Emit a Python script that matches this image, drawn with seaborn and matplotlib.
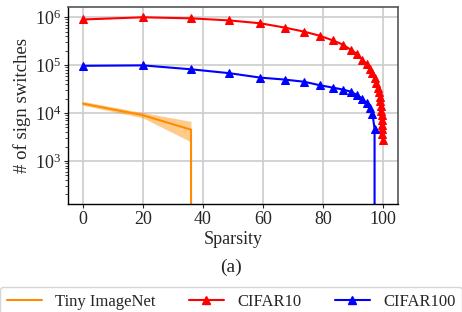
import numpy as np
import pandas as pd
import seaborn as sns
import matplotlib
matplotlib.use("Agg")
import matplotlib.pyplot as plt
from matplotlib.lines import Line2D

# Sparsity levels (iterative pruning)
sparsity = [0, 20, 36, 48.8, 59.04, 67.23, 73.79, 79.03, 83.22, 86.58,
            89.26, 91.41, 93.13, 94.50, 95.60, 96.48, 97.19, 97.75, 98.20, 98.56,
            98.85, 99.08, 99.26, 99.41, 99.53, 99.62, 99.70, 99.76, 99.81, 99.85]

# CIFAR10 - sign switches
cifar10 = [9.0e5, 1.0e6, 9.5e5, 8.6e5, 7.5e5, 6.1e5, 5.0e5, 4.1e5, 3.3e5, 2.7e5,
           2.1e5, 1.7e5, 1.3e5, 1.05e5, 8.4e4, 6.7e4, 5.4e4, 4.3e4, 3.4e4, 2.75e4,
           2.2e4, 1.75e4, 1.4e4, 1.12e4, 9.0e3, 7.2e3, 5.7e3, 4.6e3, 3.6e3, 2.8e3]

# CIFAR100 - sign switches (drops to zero at the end)
cifar100 = [9.7e4, 9.9e4, 8.2e4, 6.8e4, 5.5e4, 5.0e4, 4.5e4, 3.8e4, 3.4e4, 3.1e4,
            2.8e4, 2.35e4, 2.0e4, 1.6e4, 1.25e4, 9.7e3, 4.7e3, 0]

# Tiny ImageNet - mean and band
tiny_x = [0, 20, 36, 48.8]
tiny_mean = [1.57e4, 9.0e3, 4.5e3, 0]
tiny_low = [1.45e4, 7.9e3, 2.5e3]
tiny_high = [1.75e4, 1.02e4, 6.7e3]

sns.set_style("white")
plt.rcParams["font.family"] = ["Liberation Serif", "DejaVu Serif"]
plt.rcParams["mathtext.fontset"] = "custom"
plt.rcParams["mathtext.rm"] = "Liberation Serif"
plt.rcParams["mathtext.it"] = "Liberation Serif:italic"

orange = "#ff8c00"

df_c10 = pd.DataFrame({"Sparsity": sparsity, "n": cifar10})
df_c100 = pd.DataFrame({"Sparsity": sparsity[:len(cifar100)], "n": cifar100})
df_tiny = pd.DataFrame({"Sparsity": tiny_x, "n": tiny_mean})

fig = plt.figure(figsize=(4.62, 3.12), dpi=100)
ax = fig.add_axes([68 / 462, 1 - 204 / 312, 330 / 462, 197 / 312])

sns.lineplot(data=df_tiny, x="Sparsity", y="n", color=orange, lw=1.5, ax=ax)
ax.fill_between(tiny_x[:3], tiny_low, tiny_high, color=orange, alpha=0.45, lw=0)
sns.lineplot(data=df_c10, x="Sparsity", y="n", color="red", lw=1.5,
             marker="^", markersize=6, markeredgecolor="red", ax=ax)
sns.lineplot(data=df_c100, x="Sparsity", y="n", color="blue", lw=1.5,
             marker="^", markersize=6, markeredgecolor="blue", ax=ax)

ax.set_yscale("log")
ax.set_ylim(126, 1.64e6)
ax.set_xlim(-5, 105)
ax.set_xticks([0, 20, 40, 60, 80, 100])
ax.grid(True, which="major", color="#cccccc", lw=1.2)
ax.set_axisbelow(True)

ax.tick_params(axis="both", which="major", labelsize=13, length=3, width=0.8,
               direction="out", left=True, bottom=True, pad=2)
ax.tick_params(axis="y", which="minor", length=2, width=0.6, left=True)
for s in ["left", "bottom"]:
    ax.spines[s].set_color("black")
    ax.spines[s].set_linewidth(1.0)
for s in ["top", "right"]:
    ax.spines[s].set_color("#555555")
    ax.spines[s].set_linewidth(1.2)

ax.set_xlabel("Sparsity", fontsize=13, labelpad=2)
ax.set_ylabel("# of sign switches", fontsize=13.5, labelpad=3)
fig.text(0.5, 1 - 267 / 312, "(a)", fontsize=14, ha="center", va="center")

handles = [
    Line2D([], [], color=orange, lw=1.5),
    Line2D([], [], color="red", lw=1.5, marker="^", markersize=6),
    Line2D([], [], color="blue", lw=1.5, marker="^", markersize=6),
]
fig.legend(handles, ["Tiny ImageNet", "CIFAR10", "CIFAR100"], ncol=3,
           loc="upper center", bbox_to_anchor=(0.5, 1 - 287 / 312),
           borderaxespad=0, fontsize=12, handlelength=2.1, columnspacing=2.0,
           handletextpad=0.8, frameon=True, fancybox=True,
           edgecolor="#cccccc", borderpad=0.4)

fig.savefig("out.png", dpi=100)
